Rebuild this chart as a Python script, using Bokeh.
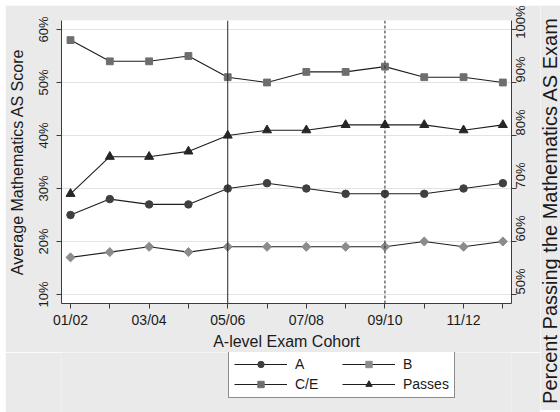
import numpy as np
from bokeh.plotting import figure
from bokeh.layouts import row, column
from bokeh.models import (Range1d, LinearAxis, FixedTicker, PrintfTickFormatter,
                          Span, Legend, LegendItem, ColumnDataSource, Label, Spacer)
from bokeh.embed import file_html
from bokeh.resources import INLINE

# A-level cohorts and results
cohorts = ["01/02", "02/03", "03/04", "04/05", "05/06", "06/07",
           "07/08", "08/09", "09/10", "10/11", "11/12", "12/13"]
grade_a = [25, 28, 27, 27, 30, 31, 30, 29, 29, 29, 30, 31]
grade_b = [17, 18, 19, 18, 19, 19, 19, 19, 19, 20, 19, 20]
grade_ce = [58, 54, 54, 55, 51, 50, 52, 52, 53, 51, 51, 50]
passes = [69, 76, 76, 77, 80, 81, 81, 82, 82, 82, 81, 82]

left_ticks = [10, 20, 30, 40, 50, 60]
right_ticks = [50, 60, 70, 80, 90, 100]
reform_cohorts = [4, 8]

x = list(range(len(cohorts)))
src = ColumnDataSource(dict(x=x, a=grade_a, b=grade_b, ce=grade_ce, passes=passes))

FONT = "Liberation Sans"
INK = "#1a1a1a"
AXIS = "#3c3c3c"
BG = "#eaeaea"
LINE = "#1e1e1e"

# series styles: (label, marker, size, angle, colour)
styles = {
    "a": ("A", "circle", 7.5, 0.0, "#404040"),
    "b": ("B", "square", 6.4, np.pi / 4, "#8c8c8c"),
    "ce": ("C/E", "square", 6.8, 0.0, "#6e6e6e"),
    "passes": ("Passes", "triangle", 9, 0.0, "#262626"),
}

# ---- main chart -------------------------------------------------------------
p = figure(frame_width=450, frame_height=283, output_backend="svg", toolbar_location=None,
           x_range=Range1d(-0.229, 11.22), y_range=Range1d(8.3, 61.7),
           min_border_left=56, min_border_right=29, min_border_top=15,
           min_border_bottom=46,
           background_fill_color="white", border_fill_color=BG)
p.outline_line_color = None
p.extra_y_ranges = {"pass": Range1d(48.3, 101.7)}

p.xgrid.visible = False
p.ygrid.ticker = FixedTicker(ticks=left_ticks)
p.ygrid.grid_line_color = "#e3e3e3"
p.ygrid.grid_line_width = 1

xa = p.xaxis[0]
xa.ticker = FixedTicker(ticks=[0, 2, 4, 6, 8, 10], minor_ticks=[1, 3, 5, 7, 9, 11])
xa.major_label_overrides = {i: cohorts[i] for i in range(0, 12, 2)}
xa.axis_label = "A-level Exam Cohort"

ya = p.yaxis[0]
ya.ticker = FixedTicker(ticks=left_ticks)
ya.formatter = PrintfTickFormatter(format="%d%%")
ya.axis_label = "Average Mathematics AS Score"
ya.major_label_orientation = "vertical"

ra = LinearAxis(y_range_name="pass", ticker=FixedTicker(ticks=right_ticks),
                formatter=PrintfTickFormatter(format="%d%%"))
# read bottom to top, like the left axis
ra.major_label_orientation = np.pi / 2
p.add_layout(ra, "right")

for ax in (xa, ya, ra):
    ax.axis_line_color = AXIS
    ax.major_tick_line_color = AXIS
    ax.minor_tick_line_color = AXIS
    ax.major_tick_in = 0
    ax.major_tick_out = 5
    ax.minor_tick_in = 0
    ax.minor_tick_out = 5
    ax.major_label_text_font = FONT
    ax.major_label_text_color = INK
    ax.axis_label_text_font = FONT
    ax.axis_label_text_font_style = "normal"
    ax.axis_label_text_color = INK
    ax.axis_label_text_font_size = "16px"
xa.major_label_text_font_size = "14px"
xa.major_label_standoff = 3
xa.axis_label_standoff = 2
ya.major_label_text_font_size = "13px"
ra.major_label_text_font_size = "13px"
ya.major_label_standoff = 5
ra.major_label_standoff = 4
ya.axis_label_standoff = 8
for ax in (ya, ra):
    ax.minor_tick_line_color = None

# reform markers
p.add_layout(Span(location=reform_cohorts[0], dimension="height",
                  line_color="#262626", line_width=1))
p.add_layout(Span(location=reform_cohorts[1], dimension="height",
                  line_color="#262626", line_width=1, line_dash="3 2"))

for key, (label, marker, size, angle, colour) in styles.items():
    rng = {"y_range_name": "pass"} if key == "passes" else {}
    p.line("x", key, source=src, line_color=LINE, line_width=1.1, **rng)
    p.scatter("x", key, source=src, marker=marker, size=size, angle=angle,
              fill_color=colour, line_color=colour, **rng)

# ---- legend strip under the chart -------------------------------------------
lg = figure(width=535, height=61, output_backend="svg", toolbar_location=None,
            x_range=Range1d(0, 1), y_range=Range1d(0, 1),
            x_axis_type=None, y_axis_type=None,
            min_border=0, background_fill_color=BG, border_fill_color=BG)
lg.outline_line_color = None
items = []
for key, (label, marker, size, angle, colour) in styles.items():
    # keys drawn off-range: only their legend swatches are visible
    l = lg.line([-5, -4], [-5, -5], line_color=LINE, line_width=1.1)
    m = lg.scatter([-5], [-5], marker=marker, size=size, angle=angle,
                   fill_color=colour, line_color=colour)
    items.append(LegendItem(label=label, renderers=[l, m]))

legend = Legend(items=items, location=(167, 15), orientation="horizontal", nrows=2)
legend.glyph_width = 53
legend.glyph_height = 16
legend.label_height = 16
legend.label_width = 43
legend.label_standoff = 8
legend.spacing = 4
legend.padding = 5
legend.margin = 0
legend.border_line_color = "#1a1a1a"
legend.border_line_width = 1
legend.background_fill_color = "white"
legend.background_fill_alpha = 1
legend.label_text_font = FONT
legend.label_text_font_size = "14px"
legend.label_text_color = INK
lg.add_layout(legend)

# ---- title of the pass-rate axis --------------------------------------------
tt = figure(width=20, height=405, output_backend="svg", toolbar_location=None,
            x_range=Range1d(0, 1), y_range=Range1d(0, 1),
            x_axis_type=None, y_axis_type=None,
            min_border=0, background_fill_color=BG, border_fill_color=BG)
tt.outline_line_color = None
tt.add_layout(Label(x=9, y=200, x_units="screen", y_units="screen",
                    text="Percent Passing the Mathematics AS Exam", angle=np.pi / 2,
                    text_align="center", text_baseline="middle",
                    text_font=FONT, text_font_size="20px", text_color=INK))

root = row(Spacer(width=5),
           column(Spacer(height=5), p, lg),
           column(Spacer(height=5), tt))
open("out.html", "w").write(file_html(root, INLINE))
